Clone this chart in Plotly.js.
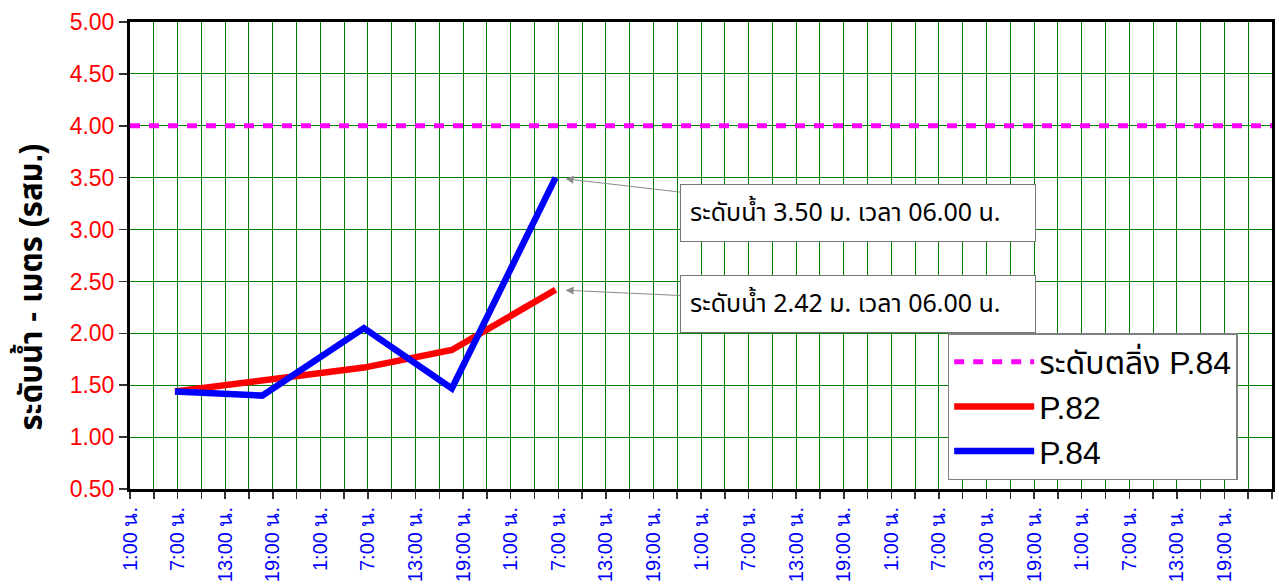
<!DOCTYPE html>
<html>
<head>
<meta charset="utf-8">
<script src="https://cdn.plot.ly/plotly-3.0.1.min.js"></script>
<style>html,body{margin:0;padding:0;background:#fff;}#chart{width:1279px;height:584px;}</style>
</head>
<body>
<div id="chart"></div>
<script>
// ---- data ----
var times = ["2024-09-01 06:40", "2024-09-01 17:40", "2024-09-02 06:30", "2024-09-02 17:35", "2024-09-03 06:40"];
var p82 = [1.44, 1.54, 1.67, 1.84, 2.42];
var p84 = [1.44, 1.40, 2.05, 1.47, 3.50];
var bankLevel = 4.00;
var axisStart = "2024-09-01 01:00";
var axisEnd = "2024-09-07 01:00";
var tickLabels = ["1:00 น.", "7:00 น.", "13:00 น.", "19:00 น."];
var seriesNames = ["ระดับตลิ่ง P.84", "P.82", "P.84"];
var noteP84 = "ระดับน้ำ 3.50 ม. เวลา 06.00 น.";
var noteP82 = "ระดับน้ำ 2.42 ม. เวลา 06.00 น.";
var yTitle = "ระดับน้ำ - เมตร (รสม.)";

// ---- ticks every 3 hours, labels every 6 hours ----
function pad(n){return (n<10?"0":"")+n;}
var t0 = new Date(axisStart.replace(" ", "T") + ":00Z").getTime();
var t1 = new Date(axisEnd.replace(" ", "T") + ":00Z").getTime();
var tickvals = [], ticktext = [];
for (var t = t0, i = 0; t <= t1; t += 3*3600000, i++) {
  var d = new Date(t);
  tickvals.push(d.getUTCFullYear()+"-"+pad(d.getUTCMonth()+1)+"-"+pad(d.getUTCDate())+" "+pad(d.getUTCHours())+":"+pad(d.getUTCMinutes()));
  ticktext.push(i % 2 === 0 && t < t1 ? tickLabels[(i/2) % 4] : "");
}

var thaiFont = "Tahoma, 'Noto Sans Thai', 'Noto Sans', sans-serif";
var traces = [
  {x: [axisStart, axisEnd], y: [bankLevel, bankLevel], name: seriesNames[0], mode: "lines",
   line: {color: "#FF00FF", width: 5, dash: "10px,9px"}},
  {x: times, y: p82, name: seriesNames[1], mode: "lines", line: {color: "#FF0000", width: 6.5}},
  {x: times, y: p84, name: seriesNames[2], mode: "lines", line: {color: "#0000FF", width: 6.5}}
];

var layout = {
  width: 1279, height: 584,
  margin: {l: 130, r: 7, t: 22, b: 95},
  paper_bgcolor: "#fff", plot_bgcolor: "#fff",
  font: {family: "Liberation Sans, Arial, sans-serif"},
  showlegend: true,
  legend: {x: 0.716, y: 0.334, xanchor: "left", yanchor: "top",
    bgcolor: "#fff", bordercolor: "#808080", borderwidth: 1.5,
    font: {size: 32, color: "#000", family: "Liberation Sans, Arial, " + thaiFont},
    tracegroupgap: 0, itemwidth: 80},
  xaxis: {type: "date", range: [axisStart, axisEnd], tickmode: "array",
    tickvals: tickvals, ticktext: ticktext, tickangle: -90,
    tickfont: {color: "#0000FF", size: 20},
    showgrid: true, gridcolor: "#008000", gridwidth: 1,
    ticks: "outside", ticklen: 7, tickcolor: "#333", tickwidth: 1.5,
    showline: true, linecolor: "#000", linewidth: 3, mirror: true,
    zeroline: false, automargin: false},
  yaxis: {range: [0.5, 5.0], dtick: 0.5, tick0: 0.5, tickformat: ".2f",
    tickfont: {color: "#FF0000", size: 23},
    showgrid: true, gridcolor: "#008000", gridwidth: 1,
    ticks: "outside", ticklen: 8, tickcolor: "#333", tickwidth: 1.5,
    showline: true, linecolor: "#000", linewidth: 3, mirror: true,
    zeroline: false, automargin: false},
  annotations: [
    {xref: "paper", yref: "paper", x: -0.088, y: 0.4325, xanchor: "center", yanchor: "middle",
     text: "<b>" + yTitle + "</b>", showarrow: false, textangle: -90,
     font: {size: 31, color: "#000", family: "Liberation Sans, Arial, " + thaiFont}},
    {x: times[4], y: p84[4], text: noteP84, showarrow: true, ax: 302, ay: 35,
     width: 336, align: "left",
     arrowhead: 2, arrowsize: 1.6, arrowwidth: 1, arrowcolor: "#8a8a8a", standoff: 10,
     bgcolor: "#fff", bordercolor: "#777", borderwidth: 1, borderpad: 9,
     font: {size: 25, color: "#000", family: thaiFont}},
    {x: times[4], y: p82[4], text: noteP82, showarrow: true, ax: 302, ay: 14,
     width: 336, align: "left",
     arrowhead: 2, arrowsize: 1.6, arrowwidth: 1, arrowcolor: "#8a8a8a", standoff: 10,
     bgcolor: "#fff", bordercolor: "#777", borderwidth: 1, borderpad: 9,
     font: {size: 25, color: "#000", family: thaiFont}}
  ]
};
Plotly.newPlot("chart", traces, layout, {displayModeBar: false, staticPlot: true});
</script>
</body>
</html>
